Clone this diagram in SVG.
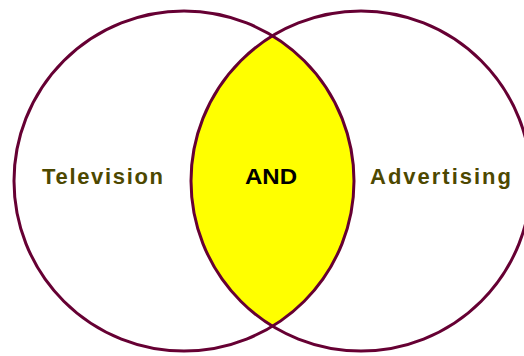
<svg xmlns="http://www.w3.org/2000/svg" width="524" height="356" viewBox="0 0 524 356">
<style>
.c{fill:none;stroke:#660033;stroke-width:3}
.t{font-family:"Liberation Sans",Arial,sans-serif;font-size:22px;font-weight:bold;fill:#4d4800}
.a{font-family:"Liberation Sans",Arial,sans-serif;font-size:22px;font-weight:bold;fill:#000}
</style>
<defs>
<clipPath id="lc"><circle cx="184" cy="181" r="170"/></clipPath>
</defs>
<rect width="524" height="356" fill="#fff"/>
<g id="and-region">
<circle cx="361" cy="181" r="170" fill="#ffff00" clip-path="url(#lc)"/>
<text class="a" x="245" y="184" textLength="52" lengthAdjust="spacingAndGlyphs">AND</text>
</g>
<g id="television">
<circle class="c" cx="184" cy="181" r="170"/>
<text class="t" x="42" y="184" textLength="121">Television</text>
</g>
<g id="advertising">
<circle class="c" cx="361" cy="181" r="170"/>
<text class="t" x="370" y="184" textLength="141">Advertising</text>
</g>
<g id="connectors"/>
</svg>
